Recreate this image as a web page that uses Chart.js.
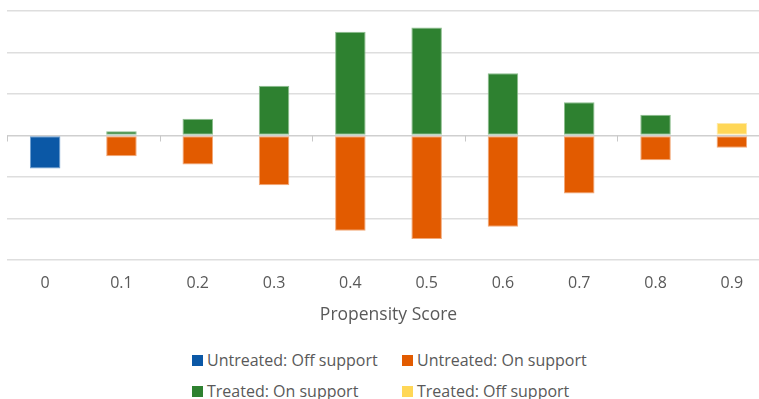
<!DOCTYPE html>
<html>
<head>
<meta charset="utf-8">
<script src="https://cdn.jsdelivr.net/npm/chart.js@4"></script>
<style>
  html, body { margin: 0; padding: 0; background: #fff; overflow: hidden; width: 759px; height: 399px; }
  #wrap { position: absolute; left: 0; top: 0; width: 770px; height: 332px; }
  #legend {
    position: absolute; left: 192px; top: 348px;
    display: grid; grid-template-columns: 210px auto; row-gap: 7px;
    font-family: "Open Sans", sans-serif; font-size: 16px; color: #595959;
  }
  .item { display: flex; align-items: center; height: 24px; white-space: nowrap; }
  .box { width: 11px; height: 11px; margin-right: 4px; flex: none; }
</style>
</head>
<body>
<div id="wrap"><canvas id="c" width="770" height="332"></canvas></div>
<div id="legend"></div>
<script>
// Propensity score bins
const categories = ['0', '0.1', '0.2', '0.3', '0.4', '0.5', '0.6', '0.7', '0.8', '0.9'];

// Counts per bin (untreated drawn below zero, treated above)
const untreatedOffSupport = [-8, null, null, null, null, null, null, null, null, null];
const untreatedOnSupport  = [null, -5, -7, -12, -23, -25, -22, -14, -6, -3];
const treatedOnSupport    = [null, 1, 4, 12, 25, 26, 15, 8, 5, null];
const treatedOffSupport   = [null, null, null, null, null, null, null, null, null, 3];

const seriesNames = ['Untreated: Off support', 'Untreated: On support', 'Treated: On support', 'Treated: Off support'];
const seriesColors = ['#0B58A6', '#E25B00', '#2E8130', '#FFD757'];
const seriesEdges  = ['#6E9ED0', '#F2A878', '#8DBE8E', '#FFE9A8'];

const yMin = -30, yMax = 30, yStep = 10;

const seriesData = [untreatedOffSupport, untreatedOnSupport, treatedOnSupport, treatedOffSupport];

// Small tick marks on the zero line at every second category boundary
const zeroTicks = {
  id: 'zeroTicks',
  beforeDatasetsDraw(chart) {
    const { ctx, scales: { x, y } } = chart;
    const y0 = Math.round(y.getPixelForValue(0)) + 0.5;
    const half = (x.getPixelForValue(1) - x.getPixelForValue(0)) / 2;
    ctx.save();
    ctx.strokeStyle = '#C8C8C8';
    ctx.lineWidth = 1;
    for (let i = 0; i < categories.length; i += 2) {
      const px = Math.round(x.getPixelForValue(i) - half) + 0.5;
      ctx.beginPath();
      ctx.moveTo(px, y0);
      ctx.lineTo(px, y0 + 6);
      ctx.stroke();
    }
    ctx.restore();
  }
};

const chart = new Chart(document.getElementById('c'), {
  type: 'bar',
  data: {
    labels: categories,
    datasets: seriesData.map((d, i) => ({
      label: seriesNames[i],
      data: d,
      backgroundColor: seriesColors[i],
      borderColor: seriesEdges[i],
      borderWidth: 1,
      borderSkipped: false,
      categoryPercentage: 1,
      barPercentage: 0.4
    }))
  },
  options: {
    responsive: false,
    animation: false,
    layout: { padding: { left: 7, right: 0, top: 11, bottom: 6 } },
    plugins: { legend: { display: false }, tooltip: { enabled: false } },
    scales: {
      x: {
        stacked: true,
        grid: { display: false },
        border: { display: false },
        ticks: { color: '#595959', font: { family: 'Open Sans', size: 16 }, padding: 6 },
        title: {
          display: true, text: 'Propensity Score', color: '#595959',
          font: { family: 'Open Sans', size: 17.5 }, padding: { top: 6, bottom: 0 }
        }
      },
      y: {
        stacked: true,
        min: yMin, max: yMax,
        afterFit(s) { s.width = 0; },
        ticks: { display: false, stepSize: yStep },
        border: { display: false },
        grid: {
          drawTicks: false,
          lineWidth: 1.5,
          color: c => c.tick && c.tick.value === 0 ? '#CFCFCF' : '#DEDEDE'
        }
      }
    }
  },
  plugins: [zeroTicks]
});

// Legend laid out as a two-column grid from the chart's datasets
const legend = document.getElementById('legend');
chart.data.datasets.forEach(ds => {
  const item = document.createElement('div');
  item.className = 'item';
  const box = document.createElement('span');
  box.className = 'box';
  box.style.background = ds.backgroundColor;
  const txt = document.createElement('span');
  txt.textContent = ds.label;
  item.appendChild(box);
  item.appendChild(txt);
  legend.appendChild(item);
});
</script>
</body>
</html>
